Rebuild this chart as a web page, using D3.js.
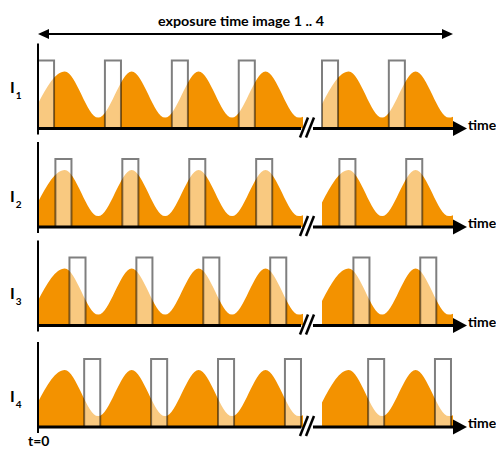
<!DOCTYPE html>
<html>
<head>
<meta charset="utf-8">
<script src="https://cdn.jsdelivr.net/npm/d3@7"></script>
<style>
  body { margin: 0; background: #fff; }
  text { font-family: Lato, "Open Sans", sans-serif; font-weight: bold; fill: #000; }
</style>
</head>
<body>
<div class="chart"></div>
<script>
// wave keypoints (peaks / troughs), time measured in wave periods
const leftTimes = [-0.1, 0.4, 0.9, 1.4, 1.9, 2.4, 2.9, 3.4, 3.9, 4.4]
const leftLevels = [0.16, 0.84, 0.16, 0.84, 0.16, 0.84, 0.16, 0.84, 0.16, 0.84]
const rightTimes = [7.9, 8.4, 8.9, 9.4, 9.9, 10.4]
const rightLevels = [0.16, 0.84, 0.16, 0.84, 0.16, 0.84]

// gate windows: one per cycle, shifted per image
const labels = ['1', '2', '3', '4']
const pulseOffsets = [0, 0.26, 0.47, 0.69]
const pulseCycles = [0, 1, 2, 3, 8, 9]
const pulseWidth = 0.24
const pulseLevel = 1

const titleText = 'exposure time image 1 .. 4'
const axisText = 'time'
const startText = 't=0'

const width = 496, height = 449
const orange = '#F39200'
const baselines = [128.5, 227, 325.5, 427]
const labelY = [93, 202, 299, 402]

const segments = [
  { x: d3.scaleLinear().domain([0, 3.96]).range([38, 303]), t: leftTimes, v: leftLevels },
  { x: d3.scaleLinear().domain([8, 9.96]).range([322, 453]), t: rightTimes, v: rightLevels }
]

const yScale = d3.scaleLinear().domain([0, 1]).range([0, -68])

const svg = d3.select('.chart')
            .append('svg')
            .attr('width', width)
            .attr('height', height)

const defs = svg.append('defs')
segments.forEach((s, i) => {
  defs.append('clipPath').attr('id', 'seg' + i)
    .append('rect')
    .attr('x', s.x.range()[0])
    .attr('y', -90)
    .attr('width', s.x.range()[1] - s.x.range()[0])
    .attr('height', 90)
})

// title arrow
const topY = 34
svg.append('line')
  .attr('x1', 44).attr('x2', 446)
  .attr('y1', topY).attr('y2', topY)
  .attr('stroke', '#000').attr('stroke-width', 2)
svg.append('path')
  .attr('d', `M38,${topY} L49,${topY - 5} L49,${topY + 5} Z`)
svg.append('path')
  .attr('d', `M453,${topY} L442,${topY - 5} L442,${topY + 5} Z`)
svg.append('text')
  .attr('x', 158).attr('y', 26)
  .attr('font-size', 14)
  .attr('textLength', 166)
  .attr('lengthAdjust', 'spacingAndGlyphs')
  .text(titleText)

labels.forEach((lab, p) => {
  const base = baselines[p]
  const g = svg.append('g').attr('transform', `translate(0,${base})`)

  segments.forEach((s, i) => {
    const pts = s.t.map((t, j) => [t, s.v[j]])
    const area = d3.area()
      .x(d => s.x(d[0]))
      .y0(yScale(0))
      .y1(d => yScale(d[1]))
      .curve(d3.curveMonotoneX)
    g.append('path')
      .attr('d', area(pts))
      .attr('fill', orange)
      .attr('clip-path', `url(#seg${i})`)
  })

  // gate windows
  pulseCycles.forEach(c => {
    const t0 = c + pulseOffsets[p]
    const s = c < 5 ? segments[0] : segments[1]
    const x0 = s.x(t0), x1 = s.x(t0 + pulseWidth)
    g.append('rect')
      .attr('x', x0)
      .attr('y', yScale(pulseLevel))
      .attr('width', x1 - x0)
      .attr('height', yScale(0) - yScale(pulseLevel))
      .attr('fill', '#fff').attr('fill-opacity', 0.5)
      .attr('stroke', '#000').attr('stroke-opacity', 0.5)
      .attr('stroke-width', 2)
  })

  // axes
  g.append('line')
    .attr('x1', 38).attr('x2', 38)
    .attr('y1', 6).attr('y2', -85)
    .attr('stroke', '#000').attr('stroke-width', 2)
  g.append('line')
    .attr('x1', 37).attr('x2', 301)
    .attr('y1', 0).attr('y2', 0)
    .attr('stroke', '#000').attr('stroke-width', 3)
  g.append('line')
    .attr('x1', 313).attr('x2', 456)
    .attr('y1', 0).attr('y2', 0)
    .attr('stroke', '#000').attr('stroke-width', 3)
  g.append('path')
    .attr('d', 'M467,0 L453,-7.5 L453,7.5 Z')
  ;[300, 306].forEach(x => {
    g.append('line')
      .attr('x1', x).attr('y1', 9)
      .attr('x2', x + 8).attr('y2', -11)
      .attr('stroke', '#000').attr('stroke-width', 2.5)
  })
  g.append('text')
    .attr('x', 468).attr('y', 1)
    .attr('font-size', 14)
    .text(axisText)

  const lt = svg.append('text')
    .attr('x', 10).attr('y', labelY[p])
    .attr('font-size', 16)
  lt.append('tspan').text('I')
  lt.append('tspan')
    .attr('font-size', 10)
    .attr('dx', 1).attr('dy', 6)
    .text(lab)
})

svg.append('text')
  .attr('x', 28).attr('y', 446)
  .attr('font-size', 14)
  .text(startText)
</script>
</body>
</html>
